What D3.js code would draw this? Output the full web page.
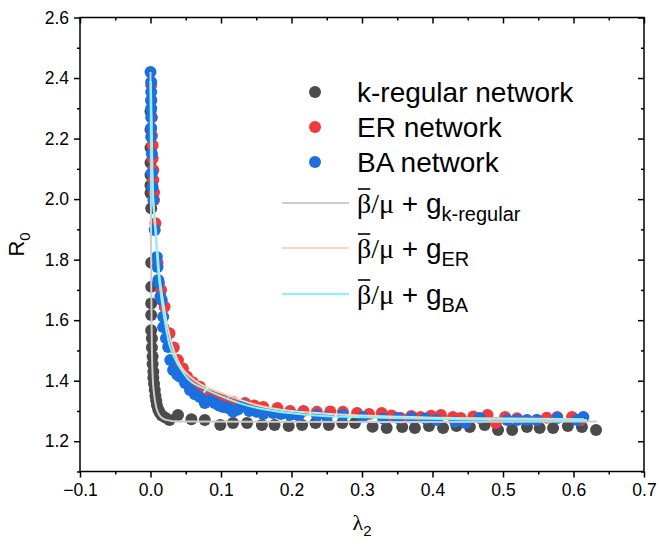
<!DOCTYPE html>
<html>
<head>
<meta charset="utf-8">
<script src="https://cdn.jsdelivr.net/npm/d3@7"></script>
<style>
  body { margin: 0; background: #fff; }
  svg { display: block; }
  text { font-family: "Liberation Sans", Arial, sans-serif; fill: #000; }
</style>
</head>
<body>
<svg id="chart" width="659" height="549"></svg>
<script>
// ---- data: basic reproduction number R0 against algebraic connectivity λ2 ----
const kRegular = [
  [0.000,2.29],[0.000,2.23],[0.000,2.17],[0.000,2.12],[0.000,2.08],[0.000,2.046],[0.000,2.02],
  [0.001,1.97],[0.001,1.79],[0.001,1.71],[0.001,1.655],[0.001,1.617],[0.001,1.567],[0.002,1.54],
  [0.002,1.51],[0.003,1.48],[0.003,1.455],[0.004,1.43],[0.004,1.41],[0.005,1.39],[0.006,1.37],
  [0.007,1.35],[0.008,1.335],[0.009,1.32],[0.011,1.305],[0.013,1.295],[0.016,1.285],[0.021,1.278],
  [0.027,1.27],[0.039,1.287],[0.058,1.273],[0.077,1.27],[0.099,1.254],[0.117,1.26],[0.137,1.26],
  [0.158,1.254],[0.176,1.254],[0.196,1.25],[0.215,1.254],[0.234,1.26],[0.253,1.254],[0.272,1.26],
  [0.290,1.26],[0.315,1.248],[0.335,1.244],[0.357,1.247],[0.375,1.244],[0.395,1.25],[0.415,1.244],
  [0.434,1.25],[0.453,1.247],[0.474,1.254],[0.493,1.237],[0.513,1.237],[0.534,1.247],[0.552,1.244],
  [0.571,1.244],[0.592,1.25],[0.612,1.247],[0.632,1.237]
];
const erNetwork = [
  [0.001,2.377],[0.001,2.327],[0.002,2.27],[0.002,2.21],[0.003,2.178],[0.003,2.135],[0.004,2.096],
  [0.004,2.063],[0.005,2.023],[0.005,1.997],[0.007,1.92],[0.010,1.79],[0.015,1.70],[0.020,1.644],
  [0.027,1.557],[0.033,1.51],[0.039,1.468],[0.046,1.44],[0.052,1.413],[0.060,1.395],[0.070,1.38],
  [0.085,1.353],[0.095,1.345],[0.103,1.336],[0.117,1.33],[0.134,1.326],[0.147,1.318],[0.160,1.313],
  [0.180,1.31],[0.198,1.30],[0.217,1.30],[0.236,1.297],[0.255,1.298],[0.273,1.297],[0.293,1.293],
  [0.310,1.29],[0.328,1.293],[0.342,1.285],[0.355,1.277],[0.370,1.283],[0.383,1.28],[0.398,1.284],
  [0.412,1.287],[0.429,1.28],[0.440,1.277],[0.458,1.282],[0.478,1.287],[0.490,1.26],[0.503,1.28],
  [0.520,1.276],[0.548,1.27],[0.562,1.278],[0.577,1.28],[0.598,1.28],[0.610,1.27]
];
const baNetwork = [
  [0.000,2.42],[0.001,2.387],[0.001,2.354],[0.001,2.327],[0.001,2.30],[0.001,2.27],[0.001,2.235],
  [0.001,2.205],[0.002,2.15],[0.002,2.086],[0.003,2.04],[0.004,1.997],[0.006,1.898],[0.009,1.809],
  [0.010,1.776],[0.011,1.733],[0.012,1.723],[0.014,1.677],[0.016,1.667],[0.018,1.611],[0.018,1.577],
  [0.022,1.54],[0.025,1.511],[0.028,1.468],[0.032,1.435],[0.038,1.42],[0.042,1.413],[0.049,1.392],
  [0.056,1.369],[0.063,1.355],[0.070,1.346],[0.077,1.326],[0.084,1.335],[0.091,1.326],[0.097,1.318],
  [0.103,1.313],[0.110,1.31],[0.117,1.297],[0.124,1.305],[0.131,1.32],[0.140,1.30],[0.151,1.297],
  [0.160,1.29],[0.174,1.293],[0.185,1.29],[0.198,1.287],[0.210,1.285],[0.236,1.287],[0.250,1.28],
  [0.273,1.287],[0.301,1.28],[0.330,1.275],[0.351,1.277],[0.370,1.278],[0.390,1.275],[0.406,1.27],
  [0.432,1.264],[0.447,1.26],[0.467,1.277],[0.506,1.27],[0.520,1.27],[0.534,1.27],[0.548,1.27],
  [0.577,1.277],[0.605,1.27],[0.614,1.28]
];

// fitted curves  β̄/μ + g
const fitKRegular = [
  [0.000,2.42],[0.0003,2.30],[0.0006,2.00],[0.0009,1.80],[0.0013,1.65],[0.002,1.50],[0.003,1.42],
  [0.004,1.38],[0.006,1.34],[0.009,1.305],[0.013,1.285],[0.020,1.272],[0.030,1.267],[0.050,1.265],
  [0.633,1.265]
];
const fitER = [
  [0.0005,2.39],[0.002,2.20],[0.004,2.00],[0.009,1.86],[0.013,1.74],[0.018,1.66],[0.024,1.58],
  [0.033,1.50],[0.045,1.44],[0.070,1.39],[0.100,1.36],[0.150,1.32],[0.200,1.30],[0.300,1.285],
  [0.400,1.278],[0.500,1.275],[0.615,1.273]
];
const fitBA = [
  [0.000,2.39],[0.0015,2.20],[0.0035,2.00],[0.0078,1.864],[0.011,1.76],[0.015,1.68],[0.020,1.60],
  [0.028,1.51],[0.038,1.458],[0.056,1.40],[0.080,1.37],[0.103,1.346],[0.126,1.326],[0.151,1.31],
  [0.197,1.293],[0.245,1.283],[0.293,1.28],[0.340,1.277],[0.450,1.272],[0.619,1.27]
];

const xTicks = [-0.1, 0.0, 0.1, 0.2, 0.3, 0.4, 0.5, 0.6, 0.7];
const xMinorTicks = [-0.05, 0.05, 0.15, 0.25, 0.35, 0.45, 0.55, 0.65];
const yTicks = [1.2, 1.4, 1.6, 1.8, 2.0, 2.2, 2.4, 2.6];
const yMinorTicks = [1.1, 1.3, 1.5, 1.7, 1.9, 2.1, 2.3, 2.5];

const seriesNames = ["k-regular network", "ER network", "BA network"];
const fitSubscripts = ["k-regular", "ER", "BA"];

// ---- layout ----
const svg = d3.select("#chart");
const M = { left: 80, right: 644, top: 17.5, bottom: 471.5 };
const x = d3.scaleLinear().domain([-0.1, 0.7]).range([M.left, M.right]);
const y = d3.scaleLinear().domain([1.1, 2.6]).range([M.bottom, M.top]);

const dotColors = ["#4b4b4b", "#ef3b3d", "#1b6fde"];
const fitColors = ["#cdcdcd", "#fdd3b8", "#7ff7ff"];
const R = 6;

// ---- axes ----
const fmt = d => (d < 0 ? "\u2212" : "") + Math.abs(d).toFixed(1);

function styleAxis(g) {
  g.select(".domain").remove();
  g.selectAll(".tick line").attr("stroke", "#000").attr("stroke-width", 1.5);
  g.selectAll(".tick text").attr("font-size", 17.5).attr("font-family", "Liberation Sans, Arial, sans-serif");
}

svg.append("g").attr("transform", `translate(0,${M.bottom})`)
  .call(d3.axisBottom(x).tickValues(xTicks).tickFormat(fmt).tickSize(6).tickPadding(6))
  .call(styleAxis);
svg.append("g").attr("transform", `translate(0,${M.bottom})`)
  .call(d3.axisBottom(x).tickValues(xMinorTicks).tickFormat("").tickSize(3))
  .call(styleAxis);
svg.append("g").attr("transform", `translate(0,${M.top})`)
  .call(d3.axisTop(x).tickValues(xTicks).tickFormat("").tickSize(-6))
  .call(styleAxis);
svg.append("g").attr("transform", `translate(0,${M.top})`)
  .call(d3.axisTop(x).tickValues(xMinorTicks).tickFormat("").tickSize(-3))
  .call(styleAxis);

svg.append("g").attr("transform", `translate(${M.left},0)`)
  .call(d3.axisLeft(y).tickValues(yTicks).tickFormat(d3.format(".1f")).tickSize(6).tickPadding(5))
  .call(styleAxis);
svg.append("g").attr("transform", `translate(${M.left},0)`)
  .call(d3.axisLeft(y).tickValues(yMinorTicks).tickFormat("").tickSize(3))
  .call(styleAxis);
svg.append("g").attr("transform", `translate(${M.right},0)`)
  .call(d3.axisRight(y).tickValues(yTicks).tickFormat("").tickSize(-6))
  .call(styleAxis);
svg.append("g").attr("transform", `translate(${M.right},0)`)
  .call(d3.axisRight(y).tickValues(yMinorTicks).tickFormat("").tickSize(-3))
  .call(styleAxis);

// ---- scatter points ----
const plot = svg.append("g");
[kRegular, erNetwork, baNetwork].forEach((data, i) => {
  plot.append("g").selectAll("circle").data(data).join("circle")
    .attr("cx", d => x(d[0])).attr("cy", d => y(d[1])).attr("r", R)
    .attr("fill", dotColors[i]);
});

// ---- fitted curves ----
const line = d3.line().x(d => x(d[0])).y(d => y(d[1])).curve(d3.curveCatmullRom.alpha(0.5));
[fitKRegular, fitER, fitBA].forEach((data, i) => {
  plot.append("path").datum(data).attr("d", line)
    .attr("fill", "none").attr("stroke", fitColors[i]).attr("stroke-width", 2);
});

// ---- frame ----
svg.append("rect")
  .attr("x", M.left).attr("y", M.top)
  .attr("width", M.right - M.left).attr("height", M.bottom - M.top)
  .attr("fill", "none").attr("stroke", "#000").attr("stroke-width", 1.5);

// ---- axis titles ----
const yTitle = svg.append("text")
  .attr("transform", `translate(24,${(M.top + M.bottom) / 2}) rotate(-90)`)
  .attr("text-anchor", "middle").attr("font-size", 22);
yTitle.append("tspan").text("R");
yTitle.append("tspan").attr("font-size", 15).attr("dy", 6).text("0");

const xTitle = svg.append("text")
  .attr("x", (M.left + M.right) / 2).attr("y", 530)
  .attr("text-anchor", "middle").attr("font-size", 22);
xTitle.append("tspan").attr("font-family", "Liberation Serif, Times New Roman, serif").text("\u03bb");
xTitle.append("tspan").attr("font-size", 15).attr("dy", 6).text("2");

// ---- legend ----
const legend = svg.append("g");
const legX = 357, symX = 315, lineX0 = 282, lineX1 = 349;
const dotRows = [92, 127, 162];
const fitRows = [203, 248, 294];
const LF = 28;

seriesNames.forEach((name, i) => {
  legend.append("circle").attr("cx", symX).attr("cy", dotRows[i]).attr("r", R).attr("fill", dotColors[i]);
  legend.append("text").attr("x", legX).attr("y", dotRows[i] + 10).attr("font-size", LF).text(name);
});

fitSubscripts.forEach((sub, i) => {
  const cy = fitRows[i];
  legend.append("line").attr("x1", lineX0).attr("x2", lineX1).attr("y1", cy).attr("y2", cy)
    .attr("stroke", fitColors[i]).attr("stroke-width", 2);
  const t = legend.append("text").attr("x", legX).attr("y", cy + 10).attr("font-size", LF);
  t.append("tspan").attr("font-family", "Liberation Serif, Times New Roman, serif").text("\u03b2");
  t.append("tspan").attr("font-family", "Liberation Serif, Times New Roman, serif").text("/\u03bc");
  t.append("tspan").text(" + g");
  t.append("tspan").attr("font-size", 20).attr("dy", 8).text(sub);
  // bar over β
  const ext = t.node().getExtentOfChar(0);
  legend.append("line")
    .attr("x1", ext.x + 1).attr("x2", ext.x + ext.width - 1)
    .attr("y1", ext.y + 1).attr("y2", ext.y + 1)
    .attr("stroke", "#000").attr("stroke-width", 1.6);
});
</script>
</body>
</html>
